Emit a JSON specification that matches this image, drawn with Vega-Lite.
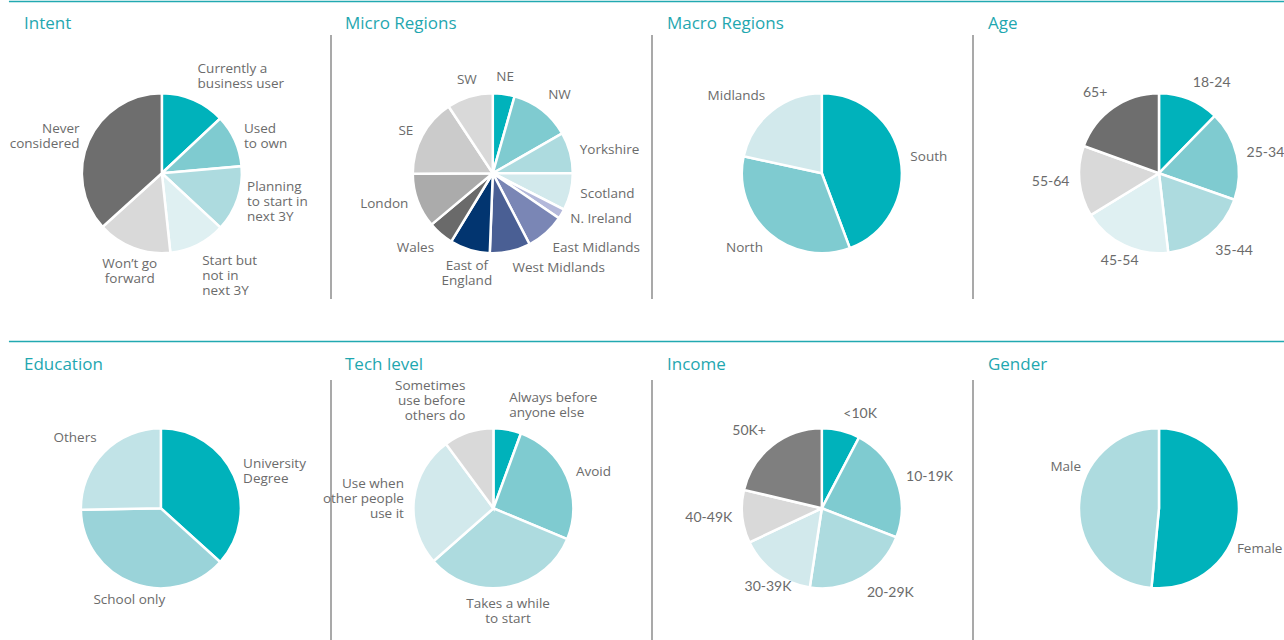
{
  "$schema": "https://vega.github.io/schema/vega-lite/v6.json",
  "padding": 0,
  "background": "white",
  "spacing": 0,
  "config": {"view": {"stroke": null}},
  "resolve": {"scale": {"color": "independent", "theta": "independent"}},
  "datasets": {
    "intent": [
      {"k": 1, "label": "Currently a\nbusiness user", "v": 13.0},
      {"k": 2, "label": "Used\nto own", "v": 10.6},
      {"k": 3, "label": "Planning\nto start in\nnext 3Y", "v": 13.3},
      {"k": 4, "label": "Start but\nnot in\nnext 3Y", "v": 11.4},
      {"k": 5, "label": "Won’t go\nforward", "v": 15.0},
      {"k": 6, "label": "Never\nconsidered", "v": 36.7}
    ],
    "micro": [
      {"k": 1, "label": "NE", "v": 4.4},
      {"k": 2, "label": "NW", "v": 12.3},
      {"k": 3, "label": "Yorkshire", "v": 8.3},
      {"k": 4, "label": "Scotland", "v": 7.5},
      {"k": 5, "label": "N. Ireland", "v": 2.0},
      {"k": 6, "label": "East Midlands", "v": 7.9},
      {"k": 7, "label": "West Midlands", "v": 8.2},
      {"k": 8, "label": "East of\nEngland", "v": 8.1},
      {"k": 9, "label": "Wales", "v": 5.2},
      {"k": 10, "label": "London", "v": 11.0},
      {"k": 11, "label": "SE", "v": 15.8},
      {"k": 12, "label": "SW", "v": 9.3}
    ],
    "macro": [
      {"k": 1, "label": "South", "v": 44.3},
      {"k": 2, "label": "North", "v": 34.1},
      {"k": 3, "label": "Midlands", "v": 21.6}
    ],
    "age": [
      {"k": 1, "label": "18-24", "v": 12.3},
      {"k": 2, "label": "25-34", "v": 18.1},
      {"k": 3, "label": "35-44", "v": 17.8},
      {"k": 4, "label": "45-54", "v": 18.1},
      {"k": 5, "label": "55-64", "v": 14.3},
      {"k": 6, "label": "65+", "v": 19.5}
    ],
    "education": [
      {"k": 1, "label": "University\nDegree", "v": 36.7},
      {"k": 2, "label": "School only", "v": 38.0},
      {"k": 3, "label": "Others", "v": 25.3}
    ],
    "tech": [
      {"k": 1, "label": "Always before\nanyone else", "v": 5.6},
      {"k": 2, "label": "Avoid", "v": 25.7},
      {"k": 3, "label": "Takes a while\nto start", "v": 32.2},
      {"k": 4, "label": "Use when\nother people\nuse it", "v": 26.4},
      {"k": 5, "label": "Sometimes\nuse before\nothers do", "v": 10.1}
    ],
    "income": [
      {"k": 1, "label": "<10K", "v": 7.7},
      {"k": 2, "label": "10-19K", "v": 23.2},
      {"k": 3, "label": "20-29K", "v": 21.5},
      {"k": 4, "label": "30-39K", "v": 15.6},
      {"k": 5, "label": "40-49K", "v": 10.7},
      {"k": 6, "label": "50K+", "v": 21.3}
    ],
    "gender": [
      {"k": 1, "label": "Female", "v": 51.5},
      {"k": 2, "label": "Male", "v": 48.5}
    ]
  },
  "vconcat": [
    {
      "spacing": 0,
      "bounds": "flush",
      "resolve": {"scale": {"color": "independent", "theta": "independent"}},
      "hconcat": [
        {
          "width": 331, "height": 339,
          "data": {"name": "intent"},
          "layer": [
            {"data": {"values": [{}]}, "mark": {"type": "rule", "color": "#22A9B1", "strokeWidth": 1.5},
             "encoding": {"x": {"datum": 0.027, "scale": {"domain": [0, 1]}, "axis": null}, "x2": {"datum": 1}, "y": {"datum": 0.0045, "scale": {"domain": [0, 1], "reverse": true}, "axis": null}}},
            {"data": {"values": [{"t": "Intent"}]}, "mark": {"type": "text", "align": "left", "baseline": "middle", "font": "Open Sans", "fontSize": 17, "color": "#1FA7B0"},
             "encoding": {"x": {"datum": 0.0725, "scale": {"domain": [0, 1]}, "axis": null}, "y": {"datum": 0.071, "scale": {"domain": [0, 1], "reverse": true}, "axis": null}, "text": {"field": "t"}}},
            {"mark": {"type": "arc", "outerRadius": 80, "stroke": "#ffffff", "strokeWidth": 2.5},
             "encoding": {"x": {"datum": 0.489, "scale": {"domain": [0, 1]}, "axis": null}, "y": {"datum": 0.511, "scale": {"domain": [0, 1], "reverse": true}, "axis": null},
               "theta": {"field": "v", "type": "quantitative", "stack": true}, "order": {"field": "k", "type": "quantitative"},
               "color": {"field": "k", "type": "ordinal", "scale": {"range": ["#00B2BB", "#7FCBD0", "#ADDBDF", "#DFF0F2", "#D9D9D9", "#6E6E6E"]}, "legend": null}}},
            {"transform": [{"joinaggregate": [{"op": "sum", "field": "v", "as": "tot"}]}, {"window": [{"op": "sum", "field": "v", "as": "cum"}], "sort": [{"field": "k"}], "frame": [null, 0]}],
             "mark": {"type": "text", "radius": 90, "font": "Open Sans", "fontSize": 13.5, "color": "#6B6B6B", "lineBreak": "\n", "lineHeight": 15,
               "align": {"expr": "sin(2*PI*(datum.cum-datum.v/2)/datum.tot) > 0.17 ? 'left' : sin(2*PI*(datum.cum-datum.v/2)/datum.tot) < (cos(2*PI*(datum.cum-datum.v/2)/datum.tot) < -0.55 ? -0.62 : -0.3) ? 'right' : 'center'"},
               "baseline": {"expr": "cos(2*PI*(datum.cum-datum.v/2)/datum.tot) > 0.55 ? 'bottom' : cos(2*PI*(datum.cum-datum.v/2)/datum.tot) < -0.55 ? 'top' : 'middle'"},
               "dy": {"expr": "(cos(2*PI*(datum.cum-datum.v/2)/datum.tot) > 0.55 ? -1 : cos(2*PI*(datum.cum-datum.v/2)/datum.tot) < -0.55 ? 0 : -0.5) * (length(split(datum.label, '\\n')) - 1) * 15"}},
             "encoding": {"x": {"datum": 0.489, "scale": {"domain": [0, 1]}, "axis": null}, "y": {"datum": 0.511, "scale": {"domain": [0, 1], "reverse": true}, "axis": null},
               "theta": {"field": "v", "type": "quantitative", "stack": true}, "order": {"field": "k", "type": "quantitative"}, "text": {"field": "label"}}}
          ]
        },
        {
          "width": 321, "height": 339,
          "data": {"name": "micro"},
          "layer": [
            {"data": {"values": [{}]}, "mark": {"type": "rule", "color": "#22A9B1", "strokeWidth": 1.5},
             "encoding": {"x": {"datum": 0, "scale": {"domain": [0, 1]}, "axis": null}, "x2": {"datum": 1}, "y": {"datum": 0.0045, "scale": {"domain": [0, 1], "reverse": true}, "axis": null}}},
            {"data": {"values": [{}]}, "mark": {"type": "rule", "color": "#7B7B7B", "strokeWidth": 1.3},
             "encoding": {"x": {"datum": 0, "scale": {"domain": [0, 1]}, "axis": null}, "y": {"datum": 0.103, "scale": {"domain": [0, 1], "reverse": true}, "axis": null}, "y2": {"datum": 0.882}}},
            {"data": {"values": [{"t": "Micro Regions"}]}, "mark": {"type": "text", "align": "left", "baseline": "middle", "font": "Open Sans", "fontSize": 17, "color": "#1FA7B0"},
             "encoding": {"x": {"datum": 0.0436, "scale": {"domain": [0, 1]}, "axis": null}, "y": {"datum": 0.071, "scale": {"domain": [0, 1], "reverse": true}, "axis": null}, "text": {"field": "t"}}},
            {"mark": {"type": "arc", "outerRadius": 80, "stroke": "#ffffff", "strokeWidth": 2.5},
             "encoding": {"x": {"datum": 0.504, "scale": {"domain": [0, 1]}, "axis": null}, "y": {"datum": 0.511, "scale": {"domain": [0, 1], "reverse": true}, "axis": null},
               "theta": {"field": "v", "type": "quantitative", "stack": true}, "order": {"field": "k", "type": "quantitative"},
               "color": {"field": "k", "type": "ordinal", "scale": {"range": ["#00B2BB", "#7FCBD0", "#ADDBDF", "#D2E9EC", "#B3B8DA", "#7A86B5", "#4A5F94", "#023570", "#6A6A6A", "#ABABAB", "#CBCBCB", "#D9D9D9"]}, "legend": null}}},
            {"transform": [{"joinaggregate": [{"op": "sum", "field": "v", "as": "tot"}]}, {"window": [{"op": "sum", "field": "v", "as": "cum"}], "sort": [{"field": "k"}], "frame": [null, 0]}],
             "mark": {"type": "text", "radius": 90, "font": "Open Sans", "fontSize": 13.5, "color": "#6B6B6B", "lineBreak": "\n", "lineHeight": 15,
               "align": {"expr": "sin(2*PI*(datum.cum-datum.v/2)/datum.tot) > 0.17 ? 'left' : sin(2*PI*(datum.cum-datum.v/2)/datum.tot) < (cos(2*PI*(datum.cum-datum.v/2)/datum.tot) < -0.55 ? -0.62 : -0.3) ? 'right' : 'center'"},
               "baseline": {"expr": "cos(2*PI*(datum.cum-datum.v/2)/datum.tot) > 0.55 ? 'bottom' : cos(2*PI*(datum.cum-datum.v/2)/datum.tot) < -0.55 ? 'top' : 'middle'"},
               "dy": {"expr": "(cos(2*PI*(datum.cum-datum.v/2)/datum.tot) > 0.55 ? -1 : cos(2*PI*(datum.cum-datum.v/2)/datum.tot) < -0.55 ? 0 : -0.5) * (length(split(datum.label, '\\n')) - 1) * 15"}},
             "encoding": {"x": {"datum": 0.504, "scale": {"domain": [0, 1]}, "axis": null}, "y": {"datum": 0.511, "scale": {"domain": [0, 1], "reverse": true}, "axis": null},
               "theta": {"field": "v", "type": "quantitative", "stack": true}, "order": {"field": "k", "type": "quantitative"}, "text": {"field": "label"}}}
          ]
        },
        {
          "width": 321, "height": 339,
          "data": {"name": "macro"},
          "layer": [
            {"data": {"values": [{}]}, "mark": {"type": "rule", "color": "#22A9B1", "strokeWidth": 1.5},
             "encoding": {"x": {"datum": 0, "scale": {"domain": [0, 1]}, "axis": null}, "x2": {"datum": 1}, "y": {"datum": 0.0045, "scale": {"domain": [0, 1], "reverse": true}, "axis": null}}},
            {"data": {"values": [{}]}, "mark": {"type": "rule", "color": "#7B7B7B", "strokeWidth": 1.3},
             "encoding": {"x": {"datum": 0, "scale": {"domain": [0, 1]}, "axis": null}, "y": {"datum": 0.103, "scale": {"domain": [0, 1], "reverse": true}, "axis": null}, "y2": {"datum": 0.882}}},
            {"data": {"values": [{"t": "Macro Regions"}]}, "mark": {"type": "text", "align": "left", "baseline": "middle", "font": "Open Sans", "fontSize": 17, "color": "#1FA7B0"},
             "encoding": {"x": {"datum": 0.0467, "scale": {"domain": [0, 1]}, "axis": null}, "y": {"datum": 0.071, "scale": {"domain": [0, 1], "reverse": true}, "axis": null}, "text": {"field": "t"}}},
            {"mark": {"type": "arc", "outerRadius": 80, "stroke": "#ffffff", "strokeWidth": 2.5},
             "encoding": {"x": {"datum": 0.529, "scale": {"domain": [0, 1]}, "axis": null}, "y": {"datum": 0.511, "scale": {"domain": [0, 1], "reverse": true}, "axis": null},
               "theta": {"field": "v", "type": "quantitative", "stack": true}, "order": {"field": "k", "type": "quantitative"},
               "color": {"field": "k", "type": "ordinal", "scale": {"range": ["#00B2BB", "#7FCBD0", "#D2E9EC"]}, "legend": null}}},
            {"transform": [{"joinaggregate": [{"op": "sum", "field": "v", "as": "tot"}]}, {"window": [{"op": "sum", "field": "v", "as": "cum"}], "sort": [{"field": "k"}], "frame": [null, 0]}],
             "mark": {"type": "text", "radius": 90, "font": "Open Sans", "fontSize": 13.5, "color": "#6B6B6B", "lineBreak": "\n", "lineHeight": 15,
               "align": {"expr": "sin(2*PI*(datum.cum-datum.v/2)/datum.tot) > 0.17 ? 'left' : sin(2*PI*(datum.cum-datum.v/2)/datum.tot) < (cos(2*PI*(datum.cum-datum.v/2)/datum.tot) < -0.55 ? -0.62 : -0.3) ? 'right' : 'center'"},
               "baseline": {"expr": "cos(2*PI*(datum.cum-datum.v/2)/datum.tot) > 0.55 ? 'bottom' : cos(2*PI*(datum.cum-datum.v/2)/datum.tot) < -0.55 ? 'top' : 'middle'"},
               "dy": {"expr": "(cos(2*PI*(datum.cum-datum.v/2)/datum.tot) > 0.55 ? -1 : cos(2*PI*(datum.cum-datum.v/2)/datum.tot) < -0.55 ? 0 : -0.5) * (length(split(datum.label, '\\n')) - 1) * 15"}},
             "encoding": {"x": {"datum": 0.529, "scale": {"domain": [0, 1]}, "axis": null}, "y": {"datum": 0.511, "scale": {"domain": [0, 1], "reverse": true}, "axis": null},
               "theta": {"field": "v", "type": "quantitative", "stack": true}, "order": {"field": "k", "type": "quantitative"}, "text": {"field": "label"}}}
          ]
        },
        {
          "width": 311, "height": 339,
          "data": {"name": "age"},
          "layer": [
            {"data": {"values": [{}]}, "mark": {"type": "rule", "color": "#22A9B1", "strokeWidth": 1.5},
             "encoding": {"x": {"datum": 0, "scale": {"domain": [0, 1]}, "axis": null}, "x2": {"datum": 1}, "y": {"datum": 0.0045, "scale": {"domain": [0, 1], "reverse": true}, "axis": null}}},
            {"data": {"values": [{}]}, "mark": {"type": "rule", "color": "#7B7B7B", "strokeWidth": 1.3},
             "encoding": {"x": {"datum": 0, "scale": {"domain": [0, 1]}, "axis": null}, "y": {"datum": 0.103, "scale": {"domain": [0, 1], "reverse": true}, "axis": null}, "y2": {"datum": 0.882}}},
            {"data": {"values": [{"t": "Age"}]}, "mark": {"type": "text", "align": "left", "baseline": "middle", "font": "Open Sans", "fontSize": 17, "color": "#1FA7B0"},
             "encoding": {"x": {"datum": 0.048, "scale": {"domain": [0, 1]}, "axis": null}, "y": {"datum": 0.071, "scale": {"domain": [0, 1], "reverse": true}, "axis": null}, "text": {"field": "t"}}},
            {"mark": {"type": "arc", "outerRadius": 80, "stroke": "#ffffff", "strokeWidth": 2.5},
             "encoding": {"x": {"datum": 0.598, "scale": {"domain": [0, 1]}, "axis": null}, "y": {"datum": 0.511, "scale": {"domain": [0, 1], "reverse": true}, "axis": null},
               "theta": {"field": "v", "type": "quantitative", "stack": true}, "order": {"field": "k", "type": "quantitative"},
               "color": {"field": "k", "type": "ordinal", "scale": {"range": ["#00B2BB", "#7FCBD0", "#ADDBDF", "#DFF0F2", "#D9D9D9", "#6E6E6E"]}, "legend": null}}},
            {"transform": [{"joinaggregate": [{"op": "sum", "field": "v", "as": "tot"}]}, {"window": [{"op": "sum", "field": "v", "as": "cum"}], "sort": [{"field": "k"}], "frame": [null, 0]}],
             "mark": {"type": "text", "radius": 90, "font": "Lato", "fontSize": 14, "color": "#6B6B6B", "lineBreak": "\n", "lineHeight": 15,
               "align": {"expr": "sin(2*PI*(datum.cum-datum.v/2)/datum.tot) > 0.17 ? 'left' : sin(2*PI*(datum.cum-datum.v/2)/datum.tot) < (cos(2*PI*(datum.cum-datum.v/2)/datum.tot) < -0.55 ? -0.62 : -0.3) ? 'right' : 'center'"},
               "baseline": {"expr": "cos(2*PI*(datum.cum-datum.v/2)/datum.tot) > 0.55 ? 'bottom' : cos(2*PI*(datum.cum-datum.v/2)/datum.tot) < -0.55 ? 'top' : 'middle'"}},
             "encoding": {"x": {"datum": 0.598, "scale": {"domain": [0, 1]}, "axis": null}, "y": {"datum": 0.511, "scale": {"domain": [0, 1], "reverse": true}, "axis": null},
               "theta": {"field": "v", "type": "quantitative", "stack": true}, "order": {"field": "k", "type": "quantitative"}, "text": {"field": "label"}}}
          ]
        }
      ]
    },
    {
      "spacing": 0,
      "bounds": "flush",
      "resolve": {"scale": {"color": "independent", "theta": "independent"}},
      "hconcat": [
        {
          "width": 331, "height": 301,
          "data": {"name": "education"},
          "layer": [
            {"data": {"values": [{}]}, "mark": {"type": "rule", "color": "#22A9B1", "strokeWidth": 1.5},
             "encoding": {"x": {"datum": 0.027, "scale": {"domain": [0, 1]}, "axis": null}, "x2": {"datum": 1}, "y": {"datum": 0.0083, "scale": {"domain": [0, 1], "reverse": true}, "axis": null}}},
            {"data": {"values": [{"t": "Education"}]}, "mark": {"type": "text", "align": "left", "baseline": "middle", "font": "Open Sans", "fontSize": 17, "color": "#1FA7B0"},
             "encoding": {"x": {"datum": 0.0725, "scale": {"domain": [0, 1]}, "axis": null}, "y": {"datum": 0.0864, "scale": {"domain": [0, 1], "reverse": true}, "axis": null}, "text": {"field": "t"}}},
            {"mark": {"type": "arc", "outerRadius": 80, "stroke": "#ffffff", "strokeWidth": 2.5},
             "encoding": {"x": {"datum": 0.486, "scale": {"domain": [0, 1]}, "axis": null}, "y": {"datum": 0.5625, "scale": {"domain": [0, 1], "reverse": true}, "axis": null},
               "theta": {"field": "v", "type": "quantitative", "stack": true}, "order": {"field": "k", "type": "quantitative"},
               "color": {"field": "k", "type": "ordinal", "scale": {"range": ["#00B2BB", "#9AD3D9", "#C1E3E7"]}, "legend": null}}},
            {"transform": [{"joinaggregate": [{"op": "sum", "field": "v", "as": "tot"}]}, {"window": [{"op": "sum", "field": "v", "as": "cum"}], "sort": [{"field": "k"}], "frame": [null, 0]}],
             "mark": {"type": "text", "radius": 90, "font": "Open Sans", "fontSize": 13.5, "color": "#6B6B6B", "lineBreak": "\n", "lineHeight": 15,
               "align": {"expr": "sin(2*PI*(datum.cum-datum.v/2)/datum.tot) > 0.17 ? 'left' : sin(2*PI*(datum.cum-datum.v/2)/datum.tot) < (cos(2*PI*(datum.cum-datum.v/2)/datum.tot) < -0.55 ? -0.62 : -0.3) ? 'right' : 'center'"},
               "baseline": {"expr": "cos(2*PI*(datum.cum-datum.v/2)/datum.tot) > 0.55 ? 'bottom' : cos(2*PI*(datum.cum-datum.v/2)/datum.tot) < -0.55 ? 'top' : 'middle'"},
               "dy": {"expr": "(cos(2*PI*(datum.cum-datum.v/2)/datum.tot) > 0.55 ? -1 : cos(2*PI*(datum.cum-datum.v/2)/datum.tot) < -0.55 ? 0 : -0.5) * (length(split(datum.label, '\\n')) - 1) * 15"}},
             "encoding": {"x": {"datum": 0.486, "scale": {"domain": [0, 1]}, "axis": null}, "y": {"datum": 0.5625, "scale": {"domain": [0, 1], "reverse": true}, "axis": null},
               "theta": {"field": "v", "type": "quantitative", "stack": true}, "order": {"field": "k", "type": "quantitative"}, "text": {"field": "label"}}}
          ]
        },
        {
          "width": 321, "height": 301,
          "data": {"name": "tech"},
          "layer": [
            {"data": {"values": [{}]}, "mark": {"type": "rule", "color": "#22A9B1", "strokeWidth": 1.5},
             "encoding": {"x": {"datum": 0, "scale": {"domain": [0, 1]}, "axis": null}, "x2": {"datum": 1}, "y": {"datum": 0.0083, "scale": {"domain": [0, 1], "reverse": true}, "axis": null}}},
            {"data": {"values": [{}]}, "mark": {"type": "rule", "color": "#7B7B7B", "strokeWidth": 1.3},
             "encoding": {"x": {"datum": 0, "scale": {"domain": [0, 1]}, "axis": null}, "y": {"datum": 0.136, "scale": {"domain": [0, 1], "reverse": true}, "axis": null}, "y2": {"datum": 1}}},
            {"data": {"values": [{"t": "Tech level"}]}, "mark": {"type": "text", "align": "left", "baseline": "middle", "font": "Open Sans", "fontSize": 17, "color": "#1FA7B0"},
             "encoding": {"x": {"datum": 0.0436, "scale": {"domain": [0, 1]}, "axis": null}, "y": {"datum": 0.0864, "scale": {"domain": [0, 1], "reverse": true}, "axis": null}, "text": {"field": "t"}}},
            {"mark": {"type": "arc", "outerRadius": 80, "stroke": "#ffffff", "strokeWidth": 2.5},
             "encoding": {"x": {"datum": 0.506, "scale": {"domain": [0, 1]}, "axis": null}, "y": {"datum": 0.5625, "scale": {"domain": [0, 1], "reverse": true}, "axis": null},
               "theta": {"field": "v", "type": "quantitative", "stack": true}, "order": {"field": "k", "type": "quantitative"},
               "color": {"field": "k", "type": "ordinal", "scale": {"range": ["#00B2BB", "#7FCBD0", "#ADDBDF", "#D2E9EC", "#D9D9D9"]}, "legend": null}}},
            {"transform": [{"joinaggregate": [{"op": "sum", "field": "v", "as": "tot"}]}, {"window": [{"op": "sum", "field": "v", "as": "cum"}], "sort": [{"field": "k"}], "frame": [null, 0]}],
             "mark": {"type": "text", "radius": 90, "font": "Open Sans", "fontSize": 13.5, "color": "#6B6B6B", "lineBreak": "\n", "lineHeight": 15,
               "align": {"expr": "sin(2*PI*(datum.cum-datum.v/2)/datum.tot) > 0.17 ? 'left' : sin(2*PI*(datum.cum-datum.v/2)/datum.tot) < (cos(2*PI*(datum.cum-datum.v/2)/datum.tot) < -0.55 ? -0.62 : -0.3) ? 'right' : 'center'"},
               "baseline": {"expr": "cos(2*PI*(datum.cum-datum.v/2)/datum.tot) > 0.55 ? 'bottom' : cos(2*PI*(datum.cum-datum.v/2)/datum.tot) < -0.55 ? 'top' : 'middle'"},
               "dy": {"expr": "(cos(2*PI*(datum.cum-datum.v/2)/datum.tot) > 0.55 ? -1 : cos(2*PI*(datum.cum-datum.v/2)/datum.tot) < -0.55 ? 0 : -0.5) * (length(split(datum.label, '\\n')) - 1) * 15"}},
             "encoding": {"x": {"datum": 0.506, "scale": {"domain": [0, 1]}, "axis": null}, "y": {"datum": 0.5625, "scale": {"domain": [0, 1], "reverse": true}, "axis": null},
               "theta": {"field": "v", "type": "quantitative", "stack": true}, "order": {"field": "k", "type": "quantitative"}, "text": {"field": "label"}}}
          ]
        },
        {
          "width": 321, "height": 301,
          "data": {"name": "income"},
          "layer": [
            {"data": {"values": [{}]}, "mark": {"type": "rule", "color": "#22A9B1", "strokeWidth": 1.5},
             "encoding": {"x": {"datum": 0, "scale": {"domain": [0, 1]}, "axis": null}, "x2": {"datum": 1}, "y": {"datum": 0.0083, "scale": {"domain": [0, 1], "reverse": true}, "axis": null}}},
            {"data": {"values": [{}]}, "mark": {"type": "rule", "color": "#7B7B7B", "strokeWidth": 1.3},
             "encoding": {"x": {"datum": 0, "scale": {"domain": [0, 1]}, "axis": null}, "y": {"datum": 0.136, "scale": {"domain": [0, 1], "reverse": true}, "axis": null}, "y2": {"datum": 1}}},
            {"data": {"values": [{"t": "Income"}]}, "mark": {"type": "text", "align": "left", "baseline": "middle", "font": "Open Sans", "fontSize": 17, "color": "#1FA7B0"},
             "encoding": {"x": {"datum": 0.0467, "scale": {"domain": [0, 1]}, "axis": null}, "y": {"datum": 0.0864, "scale": {"domain": [0, 1], "reverse": true}, "axis": null}, "text": {"field": "t"}}},
            {"mark": {"type": "arc", "outerRadius": 80, "stroke": "#ffffff", "strokeWidth": 2.5},
             "encoding": {"x": {"datum": 0.529, "scale": {"domain": [0, 1]}, "axis": null}, "y": {"datum": 0.5625, "scale": {"domain": [0, 1], "reverse": true}, "axis": null},
               "theta": {"field": "v", "type": "quantitative", "stack": true}, "order": {"field": "k", "type": "quantitative"},
               "color": {"field": "k", "type": "ordinal", "scale": {"range": ["#00B2BB", "#7FCBD0", "#ADDBDF", "#D2E9EC", "#D9D9D9", "#7F7F7F"]}, "legend": null}}},
            {"transform": [{"joinaggregate": [{"op": "sum", "field": "v", "as": "tot"}]}, {"window": [{"op": "sum", "field": "v", "as": "cum"}], "sort": [{"field": "k"}], "frame": [null, 0]}],
             "mark": {"type": "text", "radius": 90, "font": "Lato", "fontSize": 14, "color": "#6B6B6B", "lineBreak": "\n", "lineHeight": 15,
               "align": {"expr": "sin(2*PI*(datum.cum-datum.v/2)/datum.tot) > 0.17 ? 'left' : sin(2*PI*(datum.cum-datum.v/2)/datum.tot) < (cos(2*PI*(datum.cum-datum.v/2)/datum.tot) < -0.55 ? -0.62 : -0.3) ? 'right' : 'center'"},
               "baseline": {"expr": "cos(2*PI*(datum.cum-datum.v/2)/datum.tot) > 0.55 ? 'bottom' : cos(2*PI*(datum.cum-datum.v/2)/datum.tot) < -0.55 ? 'top' : 'middle'"}},
             "encoding": {"x": {"datum": 0.529, "scale": {"domain": [0, 1]}, "axis": null}, "y": {"datum": 0.5625, "scale": {"domain": [0, 1], "reverse": true}, "axis": null},
               "theta": {"field": "v", "type": "quantitative", "stack": true}, "order": {"field": "k", "type": "quantitative"}, "text": {"field": "label"}}}
          ]
        },
        {
          "width": 311, "height": 301,
          "data": {"name": "gender"},
          "resolve": {"scale": {"theta": "independent"}},
          "layer": [
            {"data": {"values": [{}]}, "mark": {"type": "rule", "color": "#22A9B1", "strokeWidth": 1.5},
             "encoding": {"x": {"datum": 0, "scale": {"domain": [0, 1]}, "axis": null}, "x2": {"datum": 1}, "y": {"datum": 0.0083, "scale": {"domain": [0, 1], "reverse": true}, "axis": null}}},
            {"data": {"values": [{}]}, "mark": {"type": "rule", "color": "#7B7B7B", "strokeWidth": 1.3},
             "encoding": {"x": {"datum": 0, "scale": {"domain": [0, 1]}, "axis": null}, "y": {"datum": 0.136, "scale": {"domain": [0, 1], "reverse": true}, "axis": null}, "y2": {"datum": 1}}},
            {"data": {"values": [{"t": "Gender"}]}, "mark": {"type": "text", "align": "left", "baseline": "middle", "font": "Open Sans", "fontSize": 17, "color": "#1FA7B0"},
             "encoding": {"x": {"datum": 0.048, "scale": {"domain": [0, 1]}, "axis": null}, "y": {"datum": 0.0864, "scale": {"domain": [0, 1], "reverse": true}, "axis": null}, "text": {"field": "t"}}},
            {"mark": {"type": "arc", "outerRadius": 80, "stroke": "#ffffff", "strokeWidth": 2.5},
             "encoding": {"x": {"datum": 0.598, "scale": {"domain": [0, 1]}, "axis": null}, "y": {"datum": 0.5625, "scale": {"domain": [0, 1], "reverse": true}, "axis": null},
               "theta": {"field": "v", "type": "quantitative", "stack": true}, "order": {"field": "k", "type": "quantitative"},
               "color": {"field": "k", "type": "ordinal", "scale": {"range": ["#00B2BB", "#ADDBDF"]}, "legend": null}}},
            {"transform": [{"joinaggregate": [{"op": "sum", "field": "v", "as": "tot"}]}, {"window": [{"op": "sum", "field": "v", "as": "cum"}], "sort": [{"field": "k"}], "frame": [null, 0]}],
             "mark": {"type": "text", "radius": 88, "font": "Open Sans", "fontSize": 13.5, "color": "#6B6B6B", "lineBreak": "\n", "lineHeight": 15,
               "align": {"expr": "sin(2*PI*(datum.cum-datum.v/2)/datum.tot) > 0.17 ? 'left' : sin(2*PI*(datum.cum-datum.v/2)/datum.tot) < (cos(2*PI*(datum.cum-datum.v/2)/datum.tot) < -0.55 ? -0.62 : -0.3) ? 'right' : 'center'"},
               "baseline": "middle"},
             "encoding": {"x": {"datum": 0.598, "scale": {"domain": [0, 1]}, "axis": null}, "y": {"datum": 0.5625, "scale": {"domain": [0, 1], "reverse": true}, "axis": null},
               "theta": {"field": "v", "type": "quantitative", "stack": true, "scale": {"range": [0.4363, 6.7195]}}, "order": {"field": "k", "type": "quantitative"}, "text": {"field": "label"}}}
          ]
        }
      ]
    }
  ]
}
